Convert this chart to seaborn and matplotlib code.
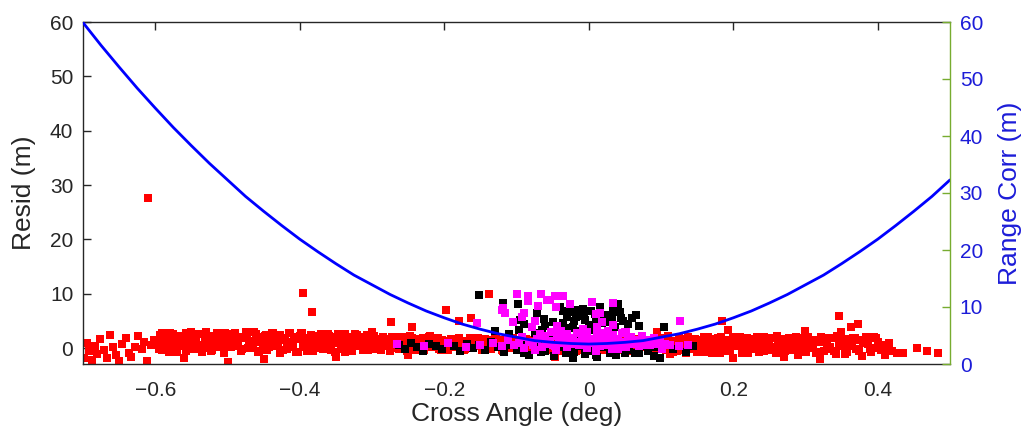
import matplotlib
matplotlib.use("Agg")
import matplotlib.pyplot as plt
import seaborn as sns

# ---------------- data ----------------
curve_x = [-0.700, -0.675, -0.650, -0.625, -0.600, -0.575, -0.550, -0.525, -0.500, -0.475,
           -0.450, -0.425, -0.400, -0.375, -0.350, -0.325, -0.300, -0.275, -0.250, -0.225,
           -0.200, -0.175, -0.150, -0.125, -0.100, -0.075, -0.050, -0.025, 0.000, 0.025,
           0.050, 0.075, 0.100, 0.125, 0.150, 0.175, 0.200, 0.225, 0.250, 0.275,
           0.300, 0.325, 0.350, 0.375, 0.400, 0.425, 0.450, 0.475, 0.500]
curve_y = [59.9, 55.9, 52.1, 48.4, 44.9, 41.5, 38.3, 35.2, 32.3, 29.4,
           26.8, 24.3, 21.9, 19.7, 17.6, 15.6, 13.9, 12.2, 10.7, 9.3,
           8.1, 7.0, 6.1, 5.3, 4.7, 4.1, 3.8, 3.6, 3.5, 3.6,
           3.8, 4.1, 4.7, 5.3, 6.1, 7.0, 8.1, 9.3, 10.7, 12.2,
           13.9, 15.6, 17.6, 19.7, 21.9, 24.3, 26.8, 29.4, 32.3]

red_x = [
    # sparse left edge
    -0.698, -0.695, -0.692, -0.688, -0.684, -0.680, -0.676, -0.671, -0.667, -0.663, -0.659, -0.654,
    -0.650, -0.646, -0.641, -0.637, -0.633, -0.628, -0.624, -0.619, -0.615, -0.611, -0.606, -0.602,
    # -0.6 .. -0.5
    -0.598, -0.595, -0.591, -0.588, -0.585, -0.581, -0.578, -0.575, -0.571, -0.568, -0.565, -0.561,
    -0.558, -0.555, -0.551, -0.548, -0.545, -0.541, -0.538, -0.535, -0.531, -0.528, -0.525, -0.521,
    -0.518, -0.515, -0.511, -0.508, -0.505, -0.501,
    # -0.5 .. -0.4
    -0.498, -0.495, -0.491, -0.488, -0.485, -0.481, -0.478, -0.475, -0.471, -0.468, -0.465, -0.461,
    -0.458, -0.455, -0.451, -0.448, -0.445, -0.441, -0.438, -0.435, -0.431, -0.428, -0.425, -0.421,
    -0.418, -0.415, -0.411, -0.408, -0.405, -0.401,
    # -0.4 .. -0.3
    -0.398, -0.395, -0.391, -0.388, -0.385, -0.381, -0.378, -0.375, -0.371, -0.368, -0.365, -0.361,
    -0.358, -0.355, -0.351, -0.348, -0.345, -0.341, -0.338, -0.335, -0.331, -0.328, -0.325, -0.321,
    -0.318, -0.315, -0.311, -0.308, -0.305, -0.301,
    # -0.3 .. -0.2
    -0.298, -0.295, -0.291, -0.288, -0.285, -0.281, -0.278, -0.275, -0.271, -0.268, -0.265, -0.261,
    -0.258, -0.255, -0.251, -0.248, -0.245, -0.241, -0.238, -0.235, -0.231, -0.228, -0.225, -0.221,
    -0.218, -0.215, -0.211, -0.208, -0.205, -0.201,
    # -0.2 .. -0.1
    -0.198, -0.195, -0.191, -0.188, -0.185, -0.181, -0.178, -0.175, -0.171, -0.168, -0.165, -0.161,
    -0.158, -0.155, -0.151, -0.148, -0.145, -0.141, -0.138, -0.135, -0.131, -0.128, -0.125, -0.121,
    -0.118, -0.115, -0.111, -0.108, -0.105, -0.101,
    # -0.1 .. 0
    -0.098, -0.095, -0.091, -0.088, -0.085, -0.081, -0.078, -0.075, -0.071, -0.068, -0.065, -0.061,
    -0.058, -0.055, -0.051, -0.048, -0.045, -0.041, -0.038, -0.035, -0.031, -0.028, -0.025, -0.021,
    -0.018, -0.015, -0.011, -0.008, -0.005, -0.001,
    # 0 .. 0.1
    0.002, 0.005, 0.009, 0.012, 0.015, 0.019, 0.022, 0.025, 0.029, 0.032, 0.035, 0.039,
    0.042, 0.045, 0.049, 0.052, 0.055, 0.059, 0.062, 0.065, 0.069, 0.072, 0.075, 0.079,
    0.082, 0.085, 0.089, 0.092, 0.095, 0.099,
    # 0.1 .. 0.2
    0.102, 0.105, 0.109, 0.112, 0.115, 0.119, 0.122, 0.125, 0.129, 0.132, 0.135, 0.139,
    0.142, 0.145, 0.149, 0.152, 0.155, 0.159, 0.162, 0.165, 0.169, 0.172, 0.175, 0.179,
    0.182, 0.185, 0.189, 0.192, 0.195, 0.199,
    # 0.2 .. 0.3
    0.202, 0.205, 0.209, 0.212, 0.215, 0.219, 0.222, 0.225, 0.229, 0.232, 0.235, 0.239,
    0.242, 0.245, 0.249, 0.252, 0.255, 0.259, 0.262, 0.265, 0.269, 0.272, 0.275, 0.279,
    0.282, 0.285, 0.289, 0.292, 0.295, 0.299,
    # 0.3 .. 0.4
    0.302, 0.306, 0.310, 0.314, 0.318, 0.322, 0.326, 0.330, 0.334, 0.338, 0.342, 0.346,
    0.350, 0.354, 0.358, 0.362, 0.366, 0.370, 0.374, 0.378, 0.382, 0.386, 0.390, 0.395,
    # sparse right edge
    0.401, 0.404, 0.407, 0.410, 0.413, 0.416, 0.420, 0.426, 0.435, 0.455, 0.468, 0.484,
    # outliers
    -0.610, -0.396, -0.383, -0.138, -0.198, -0.274, -0.245, -0.180, -0.163, -0.300,
    0.347, 0.372, 0.363, 0.185, 0.193, 0.299, 0.349, 0.095, 0.110,
    -0.500, -0.449, -0.560, -0.350, 0.200, 0.270, 0.320, -0.047, -0.250,
]
red_y = [
    # sparse left edge
    -1.8, 0.9, -0.6, -2.2, 0.3, -1.1, 1.7, -0.4, -1.9, 2.4, 0.2, -1.3,
    -2.3, 0.8, 1.9, -0.9, -1.6, 0.1, 2.2, -0.2, 1.2, -2.4, 0.6, 1.5,
    # -0.6 .. -0.5
    1.4, -0.2, 2.8, 0.8, 2.0, -0.8, 1.7, 2.5, 0.2, 2.2, 0.6, 1.1,
    -0.5, 1.9, 2.9, 0.0, 1.3, 0.4, 2.6, -0.7, 1.6, 0.9, 2.3, -0.3,
    1.2, 2.7, 0.3, 2.1, -1.0, 1.8,
    # -0.5 .. -0.4
    2.5, 0.2, 2.2, 0.6, 1.1, -0.5, 1.9, 2.9, 0.0, 1.3, 0.4, 2.6,
    -0.7, 1.6, 0.9, 2.3, -0.3, 1.2, 2.7, 0.3, 2.1, -1.0, 1.8, 1.4,
    -0.2, 2.8, 0.8, 2.0, -0.8, 1.7,
    # -0.4 .. -0.3
    2.7, 0.1, 1.3, 0.5, 2.4, -0.5, 1.5, 0.9, 2.2, -0.2, 1.2, 2.5,
    0.4, 2.0, -0.8, 1.7, 1.4, -0.1, 2.6, 0.8, 1.9, -0.6, 1.6, 2.4,
    0.3, 2.1, 0.6, 1.1, -0.4, 1.8,
    # -0.3 .. -0.2
    0.7, 1.7, -0.1, 0.9, 2.0, 0.3, 1.6, -0.6, 1.4, 1.1, 0.0, 2.1,
    0.7, 1.5, -0.5, 1.3, 1.9, 0.2, 1.6, 0.5, 0.9, -0.3, 1.4, 2.1,
    0.1, 1.0, 0.4, 1.9, -0.4, 1.2,
    # -0.2 .. -0.1
    1.3, -0.4, 1.1, 1.6, 0.2, 1.4, 0.5, 0.8, -0.2, 1.2, 1.8, 0.1,
    0.9, 0.3, 1.7, -0.3, 1.1, 0.6, 1.5, -0.1, 0.8, 1.7, 0.3, 1.4,
    -0.5, 1.2, 0.9, 0.0, 1.8, 0.6,
    # -0.1 .. 0
    0.6, -0.3, 1.0, 1.5, -0.1, 0.7, 0.2, 1.4, -0.4, 0.8, 0.4, 1.2,
    -0.2, 0.6, 1.4, 0.1, 1.1, -0.6, 0.9, 0.7, -0.2, 1.5, 0.4, 1.1,
    -0.5, 0.9, 1.3, 0.1, 1.2, 0.3,
    # 0 .. 0.1
    1.3, -0.5, 0.7, 0.3, 1.1, -0.3, 0.5, 1.3, 0.0, 1.0, -0.7, 0.8,
    0.6, -0.3, 1.4, 0.3, 1.0, -0.6, 0.8, 1.2, 0.0, 1.1, 0.2, 0.5,
    -0.4, 0.9, 1.4, -0.2, 0.6, 0.1,
    # 0.1 .. 0.2
    1.9, -0.1, 1.4, -1.1, 1.1, 0.8, -0.5, 1.9, 0.3, 1.3, -0.9, 1.1,
    1.7, -0.1, 1.5, 0.2, 0.6, -0.7, 1.2, 2.0, -0.3, 0.7, 0.0, 1.8,
    -0.9, 1.0, 0.4, 1.5, -0.5, 0.7,
    # 0.2 .. 0.3
    2.0, 0.3, 1.4, -1.0, 1.1, 1.8, -0.2, 1.5, 0.2, 0.6, -0.8, 1.3,
    2.1, -0.4, 0.8, 0.0, 1.9, -0.9, 1.0, 0.4, 1.6, -0.6, 0.7, 1.9,
    -0.1, 1.4, -1.2, 1.2, 0.8, -0.5,
    # 0.3 .. 0.4
    1.5, 0.0, 0.5, -0.9, 1.2, 2.1, -0.5, 0.7, -0.1, 1.8, -1.1, 0.9,
    0.3, 1.6, -0.8, 0.6, 1.9, -0.2, 1.4, -1.4, 1.1, 0.8, -0.7, 2.0,
    # sparse right edge
    1.2, -0.3, 0.6, -1.2, 0.2, 1.0, -0.6, -0.9, -0.9, 0.0, -0.5, -0.9,
    # outliers
    27.7, 10.1, 6.6, 9.9, 7.0, 4.8, 3.9, 5.0, 5.5, 2.9,
    5.9, 4.4, 3.9, 5.0, 3.3, 3.1, 2.9, 2.9, 2.3,
    -2.6, -2.0, -1.8, -1.6, -1.9, -1.7, -2.1, -1.7, -1.2,
]

# second pass through the dense red band
red2_x = [
    -0.597, -0.593, -0.590, -0.587, -0.583, -0.580, -0.577, -0.573, -0.570, -0.567, -0.563, -0.560,
    -0.557, -0.553, -0.550, -0.547, -0.543, -0.540, -0.537, -0.533, -0.530, -0.527, -0.523, -0.520,
    -0.517, -0.513, -0.510, -0.507, -0.503, -0.500,
    -0.497, -0.493, -0.490, -0.487, -0.483, -0.480, -0.477, -0.473, -0.470, -0.467, -0.463, -0.460,
    -0.457, -0.453, -0.450, -0.447, -0.443, -0.440, -0.437, -0.433, -0.430, -0.427, -0.423, -0.420,
    -0.417, -0.413, -0.410, -0.407, -0.403, -0.400,
    -0.397, -0.393, -0.390, -0.387, -0.383, -0.380, -0.377, -0.373, -0.370, -0.367, -0.363, -0.360,
    -0.357, -0.353, -0.350, -0.347, -0.343, -0.340, -0.337, -0.333, -0.330, -0.327, -0.323, -0.320,
    -0.317, -0.313, -0.310, -0.307, -0.303, -0.300,
    -0.297, -0.293, -0.290, -0.287, -0.283, -0.280, -0.277, -0.273, -0.270, -0.267, -0.263, -0.260,
    -0.257, -0.253, -0.250, -0.247, -0.243, -0.240, -0.237, -0.233, -0.230, -0.227, -0.223, -0.220,
    -0.217, -0.213, -0.210, -0.207, -0.203, -0.200,
    -0.197, -0.193, -0.190, -0.187, -0.183, -0.180, -0.177, -0.173, -0.170, -0.167, -0.163, -0.160,
    -0.157, -0.153, -0.150, -0.147, -0.143, -0.140, -0.137, -0.133, -0.130, -0.127, -0.123, -0.120,
    -0.117, -0.113, -0.110, -0.107, -0.103, -0.100,
    -0.097, -0.093, -0.090, -0.087, -0.083, -0.080, -0.077, -0.073, -0.070, -0.067, -0.063, -0.060,
    -0.057, -0.053, -0.050, -0.047, -0.043, -0.040, -0.037, -0.033, -0.030, -0.027, -0.023, -0.020,
    -0.017, -0.013, -0.010, -0.007, -0.003, 0.000,
    0.003, 0.007, 0.010, 0.013, 0.017, 0.020, 0.023, 0.027, 0.030, 0.033, 0.037, 0.040,
    0.043, 0.047, 0.050, 0.053, 0.057, 0.060, 0.063, 0.067, 0.070, 0.073, 0.077, 0.080,
    0.083, 0.087, 0.090, 0.093, 0.097, 0.100,
    0.103, 0.107, 0.110, 0.113, 0.117, 0.120, 0.123, 0.127, 0.130, 0.133, 0.137, 0.140,
    0.143, 0.147, 0.150, 0.153, 0.157, 0.160, 0.163, 0.167, 0.170, 0.173, 0.177, 0.180,
    0.183, 0.187, 0.190, 0.193, 0.197, 0.200,
    0.203, 0.207, 0.210, 0.213, 0.217, 0.220, 0.223, 0.227, 0.230, 0.233, 0.237, 0.240,
    0.243, 0.247, 0.250, 0.253, 0.257, 0.260, 0.263, 0.267, 0.270, 0.273, 0.277, 0.280,
    0.283, 0.287, 0.290, 0.293, 0.297, 0.300,
    0.304, 0.309, 0.314, 0.319, 0.324, 0.329, 0.334, 0.339, 0.344, 0.349, 0.354, 0.359,
    0.364, 0.369, 0.374, 0.379, 0.384, 0.389, 0.394, 0.398,
]
red2_y = [
    0.5, 2.4, -0.4, 1.9, 1.1, 2.8, 0.2, 1.6, -0.7, 2.2, 1.3, 0.3,
    2.7, 0.8, 2.0, -0.2, 1.8, 2.5, 0.6, 0.0, 2.9, 1.2, -0.6, 2.0,
    0.9, 2.4, 0.1, 1.5, 2.8, 0.4,
    1.3, 0.3, 2.7, 0.8, 2.0, -0.2, 1.8, 2.5, 0.6, 0.0, 2.9, 1.2,
    -0.6, 2.0, 0.9, 2.4, 0.1, 1.5, 2.8, 0.4, 0.5, 2.4, -0.4, 1.9,
    1.1, 2.8, 0.2, 1.6, -0.7, 2.2,
    2.7, 1.1, -0.6, 1.8, 0.8, 2.3, 0.0, 1.4, 2.6, 0.4, 0.5, 2.3,
    -0.4, 1.7, 1.0, 2.6, 0.1, 1.5, -0.7, 2.1, 1.2, 0.2, 2.5, 0.7,
    1.9, -0.3, 1.6, 2.4, 0.6, -0.1,
    2.2, 0.2, 1.3, -0.4, 1.7, 1.0, 0.3, 2.1, 0.7, 1.6, -0.1, 1.4,
    2.0, 0.6, 0.1, 2.2, 1.0, -0.4, 1.5, 0.8, 1.9, 0.1, 1.2, 2.2,
    0.4, 0.5, 1.9, -0.2, 1.5, 0.9,
    0.0, 1.2, 1.7, 0.5, 0.1, 1.9, 0.9, -0.3, 1.3, 0.7, 1.6, 0.1,
    1.0, 1.9, 0.4, 0.4, 1.6, -0.2, 1.3, 0.8, 1.9, 0.2, 1.1, -0.3,
    1.5, 0.9, 0.3, 1.8, 0.6, 1.4,
    1.4, 0.0, 0.8, 1.6, 0.2, 0.3, 1.4, -0.3, 1.0, 0.6, 1.6, 0.1,
    0.9, -0.4, 1.3, 0.7, 0.1, 1.5, 0.4, 1.2, -0.2, 1.0, 1.4, 0.3,
    -0.1, 1.6, 0.7, -0.4, 1.1, 0.5,
    -0.6, 1.2, 0.6, 0.0, 1.5, 0.3, 1.1, -0.3, 0.9, 1.4, 0.2, -0.2,
    1.6, 0.6, -0.6, 1.0, 0.4, 1.3, -0.2, 0.7, 1.6, 0.1, 0.1, 1.3,
    -0.5, 1.0, 0.5, 1.6, -0.1, 0.8,
    0.2, -0.4, 2.1, 0.7, -0.8, 1.3, 0.4, 1.7, -0.3, 0.9, 2.0, 0.0,
    0.1, 1.7, -0.7, 1.2, 0.6, 2.0, -0.2, 1.0, -0.9, 1.6, 0.8, -0.1,
    2.0, 0.4, 1.4, -0.5, 1.2, 1.8,
    1.3, 0.6, 2.1, -0.3, 1.0, -1.0, 1.6, 0.8, -0.2, 2.0, 0.3, 1.4,
    -0.6, 1.2, 1.9, 0.2, -0.4, 2.2, 0.7, -0.9, 1.4, 0.4, 1.8, -0.3,
    0.9, 2.1, 0.0, 0.1, 1.8, -0.8,
    2.0, 0.2, 1.4, -0.8, 1.1, 1.9, 0.1, -0.6, 2.2, 0.6, -1.1, 1.3,
    0.3, 1.8, -0.5, 0.9, 2.1, -0.1, 0.0, 1.8,
]

black_x = [
    # upper cloud
    -0.152, -0.119, -0.098, -0.071, -0.036, -0.024, -0.017, -0.010, 0.021, 0.040, 0.043, 0.040,
    0.025, -0.089, -0.097, -0.062, -0.060, -0.036, 0.036, 0.104, 0.066,
    -0.028, -0.020, -0.012, -0.005, 0.000, 0.005, 0.010, 0.014, 0.018, 0.028, -0.015, 0.032,
    -0.045, -0.052, 0.050, 0.048, -0.008, 0.003, -0.003, 0.022, -0.075, -0.110, -0.130, -0.095,
    -0.040, -0.030, -0.018, -0.006, 0.008, 0.016, 0.026, 0.034, 0.045, 0.055, -0.022, 0.000,
    0.012, 0.030, -0.050, 0.060, 0.070, -0.065,
    # lower band
    -0.262, -0.255, -0.246, -0.238, -0.229, -0.221, -0.212, -0.203, -0.195, -0.186, -0.178, -0.169,
    -0.160, -0.152, -0.143, -0.135, -0.126, -0.117, -0.109, -0.100, -0.091, -0.083, -0.074, -0.066,
    -0.057, -0.048, -0.040, -0.031, -0.022, -0.014, -0.005, 0.004, 0.012, 0.021, 0.030, 0.038,
    0.047, 0.056, 0.064, 0.073, 0.082, 0.090, 0.099, 0.108, 0.116, 0.125, 0.134, 0.144,
    -0.020, 0.010, 0.050, 0.090, -0.060, 0.035, 0.070, -0.090,
]
black_y = [
    9.75, 8.3, 8.1, 6.4, 6.8, 6.6, 5.7, 6.4, 5.9, 8.1, 6.6, 7.4,
    6.1, 4.4, 3.3, 5.3, 4.0, 4.6, 3.9, 3.9, 6.1,
    3.6, 4.9, 3.1, 5.2, 4.3, 3.4, 5.0, 2.8, 4.6, 3.2, 2.6, 5.4,
    3.0, 2.5, 3.0, 5.0, 7.2, 6.8, 2.3, 2.2, 2.7, 2.6, 3.1, 5.2,
    7.6, 5.8, 7.0, 5.9, 6.2, 7.6, 4.8, 6.9, 5.6, 4.4, 3.9, 3.8,
    4.1, 2.9, 4.8, 5.5, 4.0, 3.3,
    0.6, -0.2, 0.9, 0.1, -0.5, 0.7, 0.3, -0.1, 1.0, 0.4, -0.6, 0.8,
    0.0, 0.5, -0.3, 1.1, 0.2, -0.8, 0.6, -0.4, 0.9, -1.2, 0.3, -0.7,
    0.5, -1.5, 0.1, -0.9, -1.8, 0.4, -1.1, -0.5, -1.6, 0.2, -0.9, -1.3,
    0.6, -0.4, -1.0, 0.3, -0.6, 0.1, -1.9, 0.5, -0.2, 0.4, -0.7, 0.4,
    -0.8, -1.2, -1.0, -1.4, -0.6, -0.3, -0.9, -1.0,
]

magenta_x = [
    # upper cloud
    -0.100, -0.084, -0.066, -0.047, -0.035, -0.058, -0.084, -0.046, -0.026, 0.004, 0.033, -0.120,
    -0.116, 0.010, 0.015, -0.154, -0.105, -0.093, -0.075, -0.044, 0.052, 0.126, 0.011, -0.008,
    0.022, -0.054, -0.118, -0.089, -0.078, -0.043, 0.019, 0.033, 0.050, -0.070,
    # lower band
    -0.265, -0.228, -0.195, -0.170, -0.150, -0.132, -0.120, -0.112, -0.104, -0.097, -0.090, -0.083,
    -0.077, -0.071, -0.065, -0.059, -0.053, -0.047, -0.041, -0.036, -0.030, -0.025, -0.019, -0.014,
    -0.008, -0.003, 0.002, 0.007, 0.012, 0.017, 0.022, 0.027, 0.032, 0.037, 0.042, 0.047,
    0.052, 0.058, 0.064, 0.070, 0.077, 0.085, 0.093, 0.102, 0.112, 0.125, 0.138,
    -0.092, -0.062, -0.033, -0.005, 0.024, 0.055, -0.075, -0.045, 0.010, 0.040,
    -0.068, -0.060, -0.052, -0.044, -0.038, -0.030, -0.022, -0.016, -0.010, -0.002, 0.006, 0.012,
    0.018, 0.026, 0.034, 0.040, 0.046, 0.058, 0.066, 0.074, 0.082, 0.090, 0.098, 0.030,
    -0.025, 0.060, -0.050, 0.015, 0.080, 0.105,
]
magenta_y = [
    9.9, 9.6, 9.9, 9.6, 9.6, 8.8, 8.7, 7.6, 8.1, 8.5, 8.3, 7.0,
    6.4, 6.3, 6.4, 4.6, 4.8, 5.7, 5.0, 4.0, 2.9, 5.0, 3.9, 3.5,
    2.8, 8.8, 7.4, 6.4, 3.9, 2.9, 4.8, 4.2, 2.9, 7.8,
    0.7, 0.4, 0.9, 0.2, 0.6, 1.0, 0.3, 1.4, 0.5, 0.9, 0.0, 1.2,
    0.6, 1.6, 0.2, 0.8, 1.3, 0.4, 1.0, 1.7, 0.1, 0.7, 1.2, 0.5,
    1.5, 0.0, 0.9, 1.3, 0.3, 1.1, 0.6, 1.6, -0.1, 0.8, 0.4, 1.2,
    0.2, 0.7, 0.9, 0.3, 1.0, 0.5, 0.8, -0.2, 0.6, 0.4, 0.5,
    2.0, 2.2, 1.9, 2.4, 2.1, 1.8, -0.3, -0.4, -0.5, -0.2,
    2.6, 1.8, 2.9, 2.3, 3.1, 2.5, 1.9, 2.8, 2.2, 3.0, 1.7, 2.6,
    2.0, 3.2, 2.4, 1.6, 2.7, 2.1, 1.5, 2.3, 1.4, 1.9, 1.2, 1.2,
    1.0, 0.9, 0.6, 0.3, 0.5, 0.8,
]

x_ticks = [-0.6, -0.4, -0.2, 0.0, 0.2, 0.4]
x_tick_labels = ["\u22120.6", "\u22120.4", "\u22120.2", "0", "0.2", "0.4"]
y_ticks = [0, 10, 20, 30, 40, 50, 60]

# ---------------- styling ----------------
sns.set_theme(style="white")
plt.rcParams["font.family"] = ["Liberation Sans", "DejaVu Sans"]

axis_gray = "#262626"
green = "#77AC30"
label_blue = "#1c1cd8"

fig = plt.figure(figsize=(10.24, 4.34), dpi=100)
ax = fig.add_axes([83 / 1024, 1 - 364 / 434, 867 / 1024, 342 / 434])

msize = 26
sns.scatterplot(x=red_x, y=red_y, ax=ax, marker="s", s=msize, color="#FF0000", linewidth=0, zorder=2)
sns.scatterplot(x=red2_x, y=red2_y, ax=ax, marker="s", s=msize, color="#FF0000", linewidth=0, zorder=2)
sns.scatterplot(x=black_x, y=black_y, ax=ax, marker="s", s=msize, color="#000000", linewidth=0, zorder=3)
sns.scatterplot(x=magenta_x, y=magenta_y, ax=ax, marker="s", s=msize, color="#FF00FF", linewidth=0, zorder=4)

ax.set_xlim(-0.7, 0.5)
ax.set_ylim(-2.94, 60)
ax.set_xticks(x_ticks)
ax.set_xticklabels(x_tick_labels)
ax.set_yticks(y_ticks)
ax.set_xlabel("Cross Angle (deg)", fontsize=19, color=axis_gray, labelpad=2)
ax.set_ylabel("Resid (m)", fontsize=19, color=axis_gray, labelpad=10)
ax.tick_params(axis="both", direction="in", length=6, width=1, colors=axis_gray,
               labelsize=15, top=True, right=False)
ax.tick_params(axis="x", pad=12)
ax.tick_params(axis="y", pad=7)
for s in ["left", "bottom", "top"]:
    ax.spines[s].set_color(axis_gray)
    ax.spines[s].set_linewidth(1)
ax.spines["right"].set_visible(False)

ax2 = ax.twinx()
sns.lineplot(x=curve_x, y=curve_y, ax=ax2, color="#0000FF", linewidth=2)
ax2.set_ylim(0, 60)
ax2.set_yticks(y_ticks)
ax2.set_ylabel("Range Corr (m)", fontsize=19, color=label_blue, labelpad=11)
ax2.tick_params(axis="y", direction="in", length=6, width=1, colors=green,
                labelcolor=label_blue, labelsize=15, pad=7)
ax2.spines["right"].set_color(green)
ax2.spines["right"].set_linewidth(1)
for s in ["left", "bottom", "top"]:
    ax2.spines[s].set_visible(False)
ax2.grid(False)
ax.grid(False)

fig.savefig("out.png", dpi=100)
